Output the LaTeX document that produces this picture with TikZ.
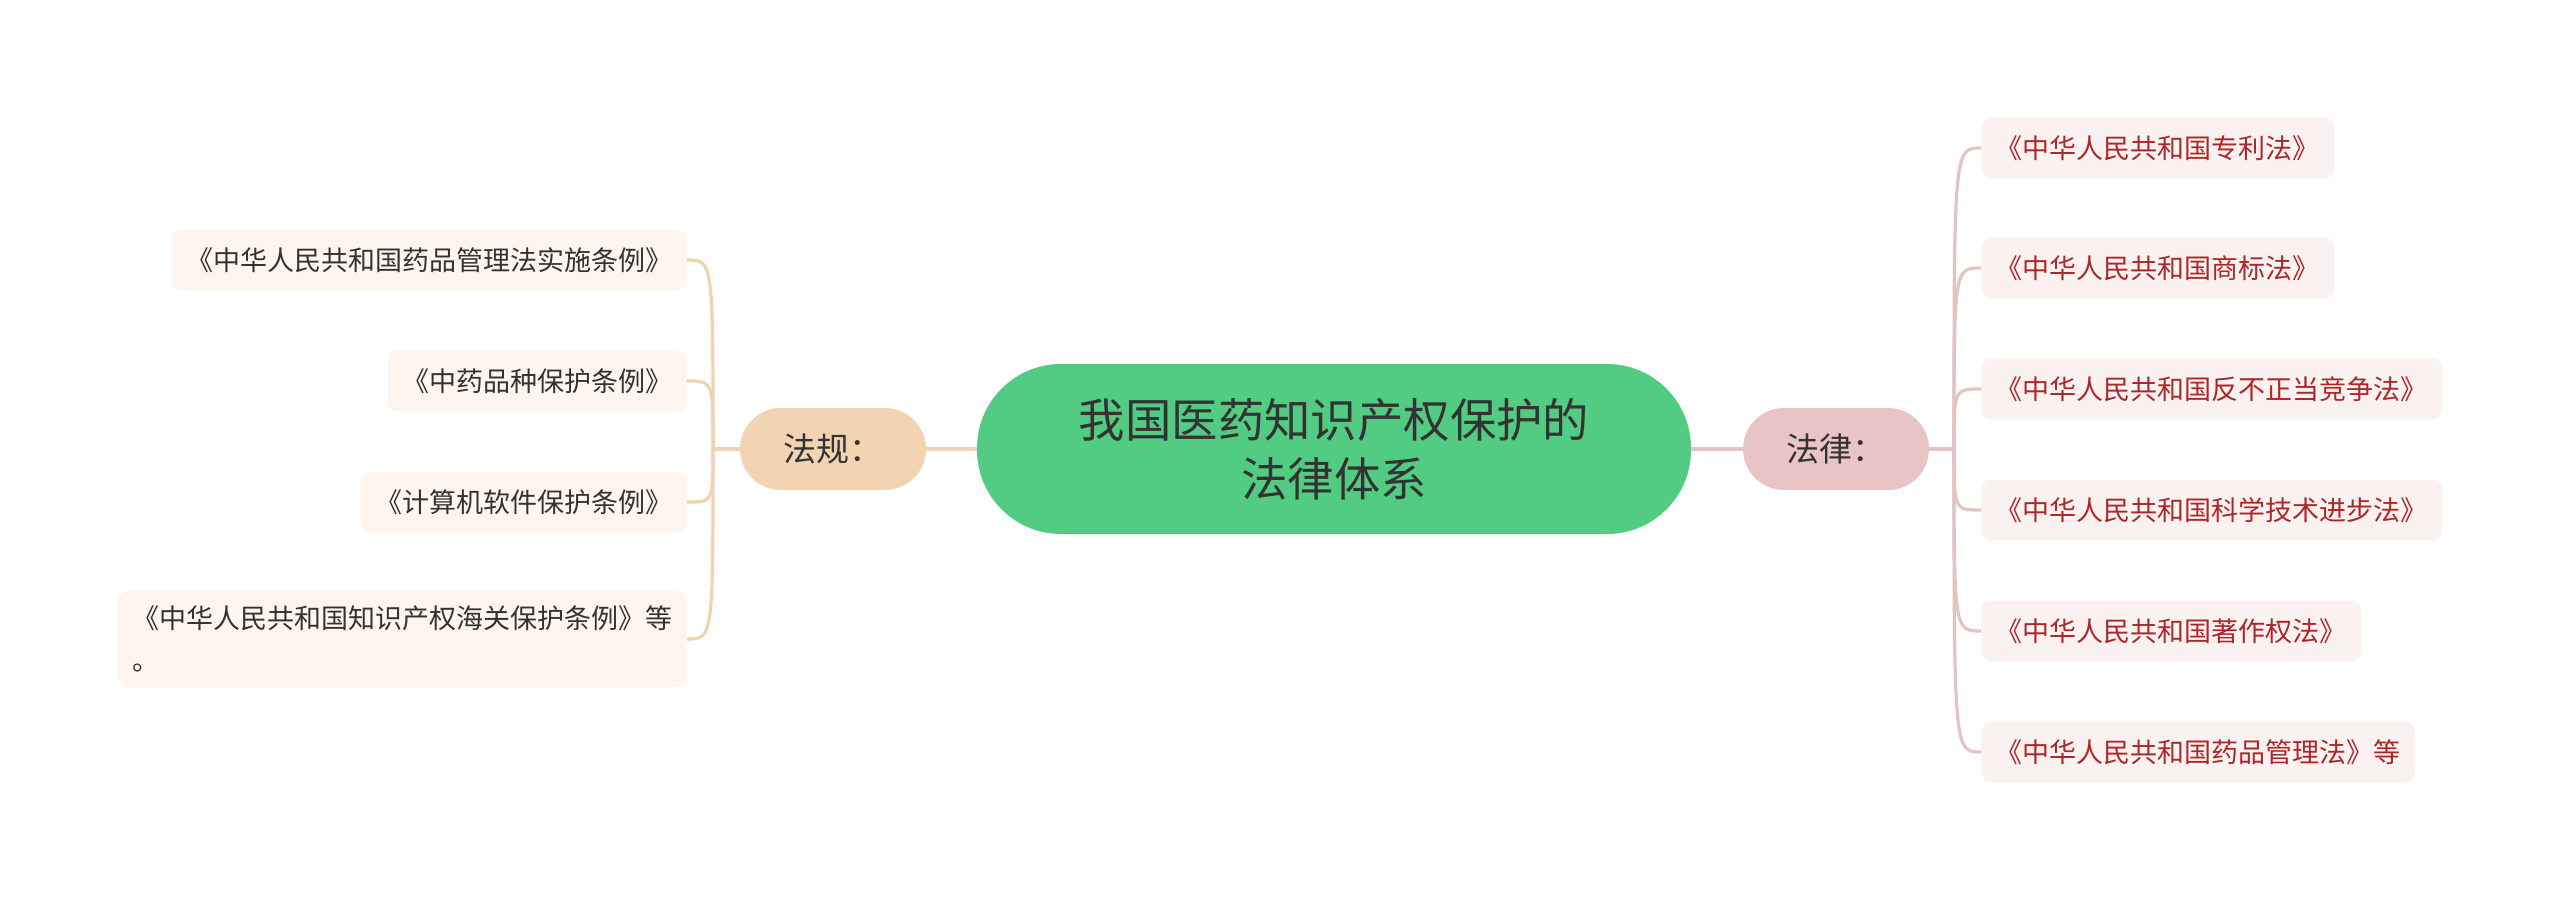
\documentclass[tikz,border=0pt]{standalone}
\usepackage{fontspec}
\setmainfont{Noto Sans CJK SC}
\definecolor{rootgreen}{HTML}{52CC82}
\definecolor{textdark}{HTML}{333333}
\definecolor{faguifill}{HTML}{F2D4B2}
\definecolor{faguiline}{HTML}{F0D3B0}
\definecolor{faguileaf}{HTML}{FEF6EE}
\definecolor{falvfill}{HTML}{E8C4C4}
\definecolor{falvline}{HTML}{E4C3C3}
\definecolor{falvleaf}{HTML}{FAF1F1}
\definecolor{falvtext}{HTML}{AD2628}
\tikzset{
    x=0.5pt, y=-0.5pt,
    rootnode/.style={fill=rootgreen, text=textdark, rounded corners=42pt,
        minimum width=357pt, minimum height=85pt, align=center,
        font=\fontsize{23.2}{29.5}\selectfont},
    branchnode/.style={rounded corners=20.5pt, text=textdark,
        minimum width=93pt, minimum height=41pt,
        font=\fontsize{16.5}{20}\selectfont},
    leafnode/.style={rounded corners=5pt, inner xsep=7.2pt, minimum height=30.5pt,
        font=\fontsize{13.5}{21}\selectfont},
    faguileafnode/.style={leafnode, fill=faguileaf, text=textdark, anchor=east},
    falvleafnode/.style={leafnode, fill=falvleaf, text=falvtext, anchor=west},
    faguiconn/.style={draw=faguiline, line width=1.6pt},
    falvconn/.style={draw=falvline, line width=1.6pt},
}
\begin{document}
\begin{tikzpicture}
    \useasboundingbox (0,0) rectangle (2560,899);
    \node[rootnode] (root) at (1334,449) {我国医药知识产权保护的\\法律体系};
    \node[branchnode, fill=faguifill] (fagui) at (833,449) {法规：};
    \node[branchnode, fill=falvfill] (falv) at (1836,449) {法律：};
    \draw[faguiconn] (root.west) -- (fagui.east);
    \draw[falvconn] (root.east) -- (falv.west);
    \coordinate (lj) at (713,449);
    \coordinate (rj) at (1954,449);
    \draw[faguiconn] (fagui.west) -- (lj);
    \draw[falvconn] (falv.east) -- (rj);
    % left side
    \foreach \i/\y/\t in {1/260/{《中华人民共和国药品管理法实施条例》},
        2/381/{《中药品种保护条例》}, 3/502/{《计算机软件保护条例》}}{
        \node[faguileafnode] (l\i) at (687,\y) {\t};
        \draw[faguiconn] (lj) .. controls (lj |- l\i.east) and (lj |- l\i.east) .. (l\i.east);
        };
    \node[faguileafnode, align=left, minimum height=48pt] (l4) at (687,639)
        {《中华人民共和国知识产权海关保护条例》等\\。};
    \draw[faguiconn] (lj) .. controls (lj |- l4.east) and (lj |- l4.east) .. (l4.east);
    % right side
    \foreach \i/\y/\t in {1/148/{《中华人民共和国专利法》}, 2/268/{《中华人民共和国商标法》},
        3/389/{《中华人民共和国反不正当竞争法》}, 4/510/{《中华人民共和国科学技术进步法》},
        5/631/{《中华人民共和国著作权法》}, 6/752/{《中华人民共和国药品管理法》等}}{
        \node[falvleafnode] (r\i) at (1981,\y) {\t};
        \draw[falvconn] (rj) .. controls (rj |- r\i.west) and (rj |- r\i.west) .. (r\i.west);
        };
\end{tikzpicture}
\end{document}
